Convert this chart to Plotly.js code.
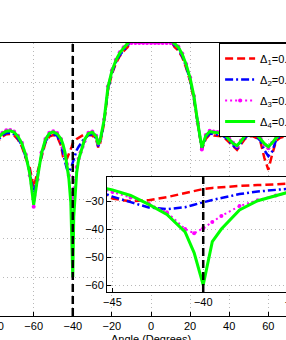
<!DOCTYPE html>
<html><head><meta charset="utf-8">
<script src="https://cdn.plot.ly/plotly-3.0.1.min.js"></script>
<style>
html,body{margin:0;padding:0;width:286px;height:340px;overflow:hidden;background:#fff;position:relative}
#main{position:absolute;left:-50px;top:0;width:420px;height:360px}
#inset{position:absolute;left:57px;top:167px;width:260px;height:150px}
</style></head><body>
<div id="main"></div><div id="inset"></div>
<script>
// Angle grid (degrees)
const angles = [
 -90,-88,-86,-84,-82,-80,-78,-76,-74,-72,
 -70,-68,-66,-64,-62,-60,-58,-56,-54,-52,
 -50,-48,-46,-45,-44,-43,-42,-41,-40.5,-40,
 -39.5,-39,-38,-37,-36,-35,-34,-32,-30,-28,
 -27,-26,-24,-22,-20,-18,-16,-14,-12,-10,
 -8,-6,-4,-2,0,2,4,6,8,10,
 12,14,16,18,20,22,24,26,28,30,
 32,34,36,38,40,42,44,46,48,50,
 52,54,56,58,60,62,64,66,68,70,
 72,74,76,78,80,82,84,86,88,90];
// Δ1 (red, dashed)
const delta1 = [
 -30.8,-26.8,-25.3,-24.8,-25.3,-26.0,-25.0,-24.0,-23.4,-23.3,
 -23.7,-24.8,-26.6,-29.6,-32.0,-37.0,-33.0,-29.0,-25.6,-24.0,
 -23.6,-24.0,-26.3,-29.1,-30.1,-29.7,-28.6,-27.2,-26.5,-25.7,
 -25.3,-25.0,-24.6,-24.3,-23.9,-23.5,-23.4,-23.6,-23.7,-24.8,
 -26.8,-25.7,-20.6,-12.1,-8.0,-5.3,-3.4,-2.1,-1.1,1.0,
 1.5,1.5,1.5,1.5,1.5,1.5,1.5,1.5,1.5,0.8,
 -1.0,-1.9,-3.7,-6.4,-9.8,-14.6,-21.6,-27.3,-24.6,-23.5,
 -23.7,-23.8,-23.9,-24.5,-25.5,-26.6,-27.4,-26.0,-24.6,-23.9,
 -23.9,-24.4,-25.4,-29.5,-32.5,-28.5,-25.1,-24.3,-24.0,-24.2,
 -25.0,-26.3,-28.3,-30.8,-28.8,-26.8,-26.3,-27.3,-28.8,-30.8];
// Δ2 (blue, dash-dot)
const delta2 = [
 -30.5,-26.5,-25.0,-24.5,-25.0,-25.7,-24.7,-23.7,-23.1,-23.0,
 -23.4,-24.5,-26.3,-29.3,-33.0,-39.0,-34.0,-28.8,-25.3,-23.7,
 -23.3,-23.8,-25.8,-28.4,-30.4,-32.3,-32.9,-32.2,-31.3,-30.4,
 -29.6,-28.9,-27.5,-26.6,-25.8,-25.1,-24.6,-23.6,-23.4,-24.5,
 -26.5,-25.4,-20.3,-11.8,-7.7,-5.0,-3.1,-1.8,-0.8,1.0,
 1.5,1.5,1.5,1.5,1.5,1.5,1.5,1.5,1.5,0.8,
 -0.7,-1.6,-3.4,-6.1,-9.5,-14.3,-21.3,-27.1,-24.3,-23.2,
 -23.4,-23.5,-23.6,-24.2,-25.2,-26.3,-27.0,-25.7,-24.3,-23.6,
 -23.6,-24.1,-25.1,-27.5,-29.0,-27.8,-24.8,-24.0,-23.7,-23.9,
 -24.7,-26.0,-28.0,-30.5,-28.5,-26.5,-26.0,-27.0,-28.5,-30.5];
// Δ3 (magenta, dotted with dots)
const delta3 = [
 -29.8,-25.8,-24.3,-23.8,-24.3,-25.0,-24.0,-23.0,-22.4,-22.3,
 -22.7,-23.8,-25.6,-28.6,-34.0,-42.0,-35.0,-28.1,-24.6,-23.0,
 -22.6,-23.1,-24.6,-26.8,-28.7,-31.0,-34.0,-40.0,-41.5,-39.7,
 -37.5,-35.3,-31.8,-29.7,-28.0,-26.6,-25.2,-23.0,-22.7,-23.8,
 -25.8,-24.7,-19.6,-11.1,-7.0,-4.3,-2.4,-1.1,-0.2,0.0,
 0.0,0.0,0.0,0.0,0.0,0.0,0.0,0.0,0.0,0.0,
 -0.1,-0.9,-2.7,-5.4,-8.8,-13.6,-20.6,-27.3,-23.6,-22.5,
 -22.7,-22.8,-22.9,-23.5,-24.5,-25.6,-26.5,-25.0,-23.6,-22.9,
 -22.9,-23.4,-24.4,-26.0,-27.0,-25.6,-24.1,-23.3,-23.0,-23.2,
 -24.0,-25.3,-27.3,-29.8,-27.8,-25.8,-25.3,-26.3,-27.8,-29.8];
// Δ4 (green, solid)
const delta4 = [
 -30.0,-26.0,-24.5,-24.0,-24.5,-25.2,-24.2,-23.2,-22.6,-22.5,
 -22.9,-24.0,-25.8,-28.8,-33.5,-41.5,-34.5,-28.3,-24.8,-23.2,
 -22.8,-23.3,-24.6,-26.0,-28.0,-31.2,-34.8,-41.0,-48.5,-60.0,
 -44.5,-40.0,-33.2,-29.9,-28.0,-26.3,-24.8,-23.2,-22.9,-24.0,
 -26.0,-24.9,-19.8,-11.3,-7.2,-4.5,-2.6,-1.3,-0.3,1.0,
 1.5,1.5,1.5,1.5,1.5,1.5,1.5,1.5,1.5,0.8,
 -0.2,-1.1,-2.9,-5.6,-9.0,-13.8,-20.8,-26.8,-23.8,-22.7,
 -22.9,-23.0,-23.1,-23.7,-24.7,-25.8,-26.3,-25.2,-23.8,-23.1,
 -23.1,-23.6,-24.6,-25.8,-26.6,-25.6,-24.3,-23.5,-23.2,-23.4,
 -24.2,-25.5,-27.5,-30.0,-28.0,-26.0,-25.5,-26.5,-28.0,-30.0];

const seriesNames = ['Δ<sub>1</sub>=0.1','Δ<sub>2</sub>=0.2','Δ<sub>3</sub>=0.3','Δ<sub>4</sub>=0.4'];
const nullAngle = -40;
const mainXTicks = [-80,-60,-40,-20,0,20,40,60,80];
const mainYTicks = [-70,-60,-50,-40,-30,-20,-10,0];
const insetXTicks = [-45,-40,-35];
const insetYTicks = [-60,-50,-40,-30];

const FONT = 'Liberation Sans, Arial, Helvetica, sans-serif';
const styles = [
  {color:'#ff0000', width:2.5, dash:'8px,4px', mode:'lines'},
  {color:'#0000ff', width:2.5, dash:'8px,3px,2px,3px', mode:'lines'},
  {color:'#ff00ff', width:2, dash:'2px,3px', mode:'lines+markers'},
  {color:'#00ff00', width:3, dash:'solid', mode:'lines'}
];
const data = [delta1, delta2, delta3, delta4];

function traces(showLegend){
  return data.map((ys,i)=>({
    x: angles, y: ys, type:'scatter', mode: styles[i].mode,
    name: seriesNames[i], showlegend: showLegend, legendgroup:'g'+i,
    line:{color:styles[i].color, width:styles[i].width, dash:styles[i].dash},
    marker:{color:styles[i].color, size:4}
  }));
}
function nullLine(){
  return {type:'line', xref:'x', yref:'paper', x0:nullAngle, x1:nullAngle, y0:0, y1:1,
    line:{color:'#000', width:2.5, dash:'8px,4px'}, layer:'above'};
}
const axCommon = {
  showline:true, mirror:true, linecolor:'#000', linewidth:1,
  ticks:'inside', ticklen:4, tickcolor:'#000',
  showgrid:true, gridcolor:'#b8b8b8', griddash:'1px,3px', gridwidth:1,
  zeroline:false, tickfont:{family:FONT, size:11, color:'#000'}
};

Plotly.newPlot('main', traces(true), {
  width:420, height:360,
  margin:{l:25.2, r:42.8, t:43, b:44},
  paper_bgcolor:'rgba(0,0,0,0)', plot_bgcolor:'#fff',
  xaxis:Object.assign({}, axCommon, {range:[-90,90], tickmode:'array', tickvals:mainXTicks,
    title:{text:'Angle (Degrees)', font:{family:FONT, size:11, color:'#000'}, standoff:4}}),
  yaxis:Object.assign({}, axCommon, {range:[-70,0], tickmode:'array', tickvals:mainYTicks}),
  shapes:[nullLine()],
  legend:{x:0.6935, y:1, xanchor:'left', yanchor:'top', bgcolor:'#fff',
    bordercolor:'#000', borderwidth:1, tracegroupgap:2,
    font:{family:FONT, size:11, color:'#000'}},
  showlegend:true
}, {staticPlot:true});

Plotly.newPlot('inset', traces(false), {
  width:260, height:150,
  margin:{l:50.3, r:23.1, t:10, b:25},
  paper_bgcolor:'rgba(0,0,0,0)', plot_bgcolor:'#fff',
  xaxis:Object.assign({}, axCommon, {range:[-45.3,-35], tickmode:'array', tickvals:insetXTicks}),
  yaxis:Object.assign({}, axCommon, {range:[-62.5,-21.4], tickmode:'array', tickvals:insetYTicks}),
  shapes:[nullLine()],
  showlegend:false
}, {staticPlot:true});
</script></body></html>
